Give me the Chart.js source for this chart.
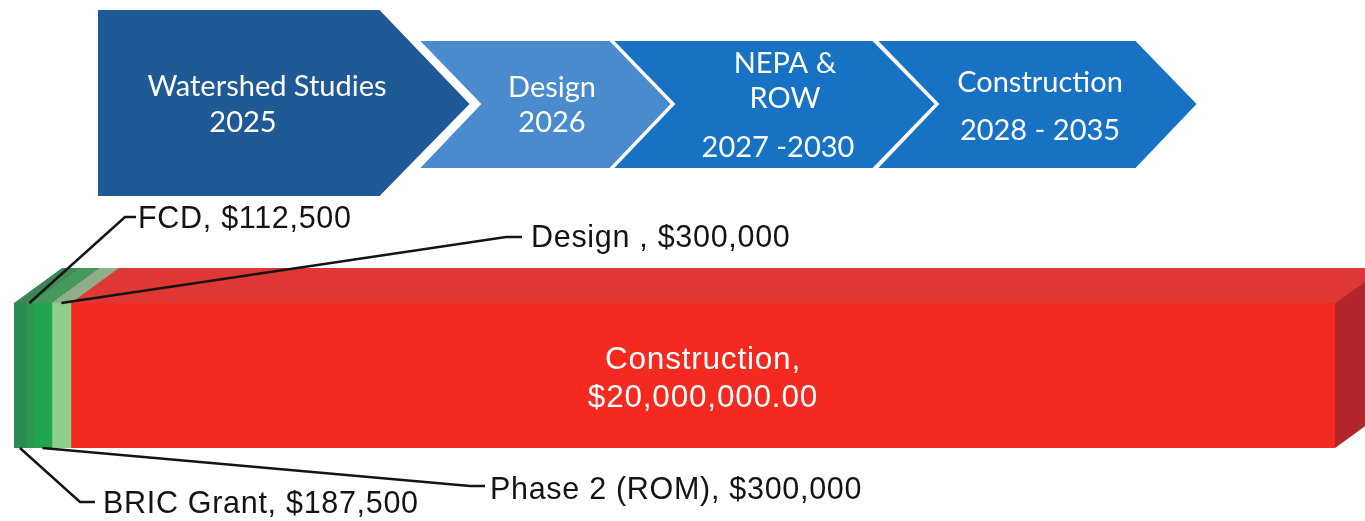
<!DOCTYPE html>
<html>
<head>
<meta charset="utf-8">
<script src="https://cdn.jsdelivr.net/npm/chart.js@4.4.1/dist/chart.umd.min.js"></script>
<style>
  html, body { margin: 0; padding: 0; background: #ffffff; }
  #wrap { position: relative; width: 1365px; height: 521px; }
</style>
</head>
<body>
<div id="wrap"><canvas id="c" width="1365" height="521"></canvas></div>
<script>
// ---------- DATA ----------
const categories = ['BRIC Grant', 'FCD', 'Phase 2 (ROM)', 'Design', 'Construction'];
const values = [187500, 112500, 300000, 300000, 20000000];
const valueLabels = [
  ['BRIC Grant, $187,500'],
  ['FCD, $112,500'],
  ['Phase 2 (ROM), $300,000'],
  ['Design , $300,000'],
  ['Construction,', '$20,000,000.00']
];
const phaseNames = [['Watershed Studies'], ['Design'], ['NEPA &', 'ROW'], ['Construction']];
const phaseYears = ['2025', '2026', '2027 -2030', '2028 - 2035'];

// ---------- STYLE ----------
const frontColors = ['#2a8a52', '#2f9453', '#22a64b', '#8ecf8c', '#f4291f'];
const topColors   = ['#3a8556', '#3f8e58', '#47985d', '#8fae8c', '#df3733'];
const sideColor = '#b3272a';
const DEPTH_X = 48, DEPTH_Y = 35;
const labelFont = '30.5px "Liberation Sans", Arial, sans-serif';

const total = values.reduce((a, b) => a + b, 0);

// chevron header (decorative process diagram)
const chevrons = [
  { color: '#1f5a97', pts: [[97,9],[380,9],[471,104],[380,197],[97,197]],
    lines: [[phaseNames[0][0], 267, 96], [phaseYears[0], 243, 132]] },
  { color: '#4a8bcd', pts: [[418,40],[610,40],[672,104],[610,169],[418,169],[480,104]],
    lines: [[phaseNames[1][0], 552, 97], [phaseYears[1], 552, 132]] },
  { color: '#1872c4', pts: [[612,40],[873,40],[936,104],[873,169],[612,169],[674,104]],
    lines: [[phaseNames[2][0], 785, 73], [phaseNames[2][1], 785, 108], [phaseYears[2], 778, 157]] },
  { color: '#1872c4', pts: [[876,40],[1136,40],[1198,104],[1136,169],[876,169],[938,104]],
    lines: [[phaseNames[3][0], 1040, 92], [phaseYears[3], 1040, 140]] }
];

// leader-line layout: which edge to anchor, elbow, end, text start and baseline
const leaders = [
  { edge: 'bottom', elbow: [80, 502], end: [95, 502], text: [103, 513] },
  { edge: 'top',    elbow: [125, 217], end: [136, 217], text: [138, 228] },
  { edge: 'bottom', elbow: [470, 486], end: [485, 486], text: [490, 499] },
  { edge: 'top',    elbow: [506, 237], end: [522, 237], text: [531, 247] },
  null
];

const headerPlugin = {
  id: 'header',
  beforeDraw(chart) {
    const ctx = chart.ctx;
    ctx.save();
    chevrons.forEach(ch => {
      ctx.beginPath();
      ch.pts.forEach((p, i) => i ? ctx.lineTo(p[0], p[1]) : ctx.moveTo(p[0], p[1]));
      ctx.closePath();
      ctx.fillStyle = ch.color;
      ctx.fill();
      ctx.lineWidth = 2;
      ctx.strokeStyle = '#ffffff';
      ctx.stroke();
    });
    ctx.fillStyle = '#ffffff';
    ctx.font = '29px Lato, "Open Sans", sans-serif';
    ctx.textAlign = 'center';
    ctx.textBaseline = 'alphabetic';
    chevrons.forEach(ch => ch.lines.forEach(l => ctx.fillText(l[0], l[1], l[2])));
    ctx.restore();
  }
};

const boxPlugin = {
  id: 'box3d',
  afterDatasetsDraw(chart) {
    const ctx = chart.ctx;
    ctx.save();
    const metas = chart.data.datasets.map((d, i) => chart.getDatasetMeta(i).data[0]);
    // top faces
    metas.forEach((el, i) => {
      const xl = Math.min(el.base, el.x), xr = Math.max(el.base, el.x);
      const yt = el.y - el.height / 2;
      ctx.beginPath();
      ctx.moveTo(xl, yt);
      ctx.lineTo(xr + 0.5, yt);
      ctx.lineTo(xr + 0.5 + DEPTH_X, yt - DEPTH_Y);
      ctx.lineTo(xl + DEPTH_X, yt - DEPTH_Y);
      ctx.closePath();
      ctx.fillStyle = topColors[i];
      ctx.fill();
    });
    // right side face
    const last = metas[metas.length - 1];
    const xr = last.x, yt = last.y - last.height / 2, yb = last.y + last.height / 2;
    ctx.beginPath();
    ctx.moveTo(xr, yt);
    ctx.lineTo(xr + DEPTH_X, yt - DEPTH_Y);
    ctx.lineTo(xr + DEPTH_X, yb - DEPTH_Y);
    ctx.lineTo(xr, yb);
    ctx.closePath();
    ctx.fillStyle = sideColor;
    ctx.fill();

    // labels and leader lines
    ctx.textBaseline = 'alphabetic';
    metas.forEach((el, i) => {
      const L = leaders[i];
      const cx = (el.base + el.x) / 2;
      if (L) {
        const ay = L.edge === 'top' ? el.y - el.height / 2 : el.y + el.height / 2;
        ctx.beginPath();
        ctx.moveTo(cx, ay);
        ctx.lineTo(L.elbow[0], L.elbow[1]);
        ctx.lineTo(L.end[0], L.end[1]);
        ctx.strokeStyle = '#141414';
        ctx.lineWidth = 2.5;
        ctx.stroke();
        ctx.font = labelFont;
        ctx.letterSpacing = '0.7px';
        ctx.fillStyle = '#141414';
        ctx.textAlign = 'left';
        ctx.fillText(valueLabels[i][0], L.text[0], L.text[1]);
      } else {
        ctx.font = '31.5px "Liberation Sans", Arial, sans-serif';
        ctx.letterSpacing = '0.8px';
        ctx.fillStyle = '#ffffff';
        ctx.textAlign = 'center';
        const lines = valueLabels[i];
        ctx.fillText(lines[0], cx, el.y - 7);
        ctx.fillText(lines[1], cx, el.y + 31);
      }
    });
    ctx.restore();
  }
};

new Chart(document.getElementById('c'), {
  type: 'bar',
  data: {
    labels: ['Funding'],
    datasets: categories.map((name, i) => ({
      label: name,
      data: [values[i]],
      backgroundColor: frontColors[i],
      borderWidth: 0,
      barPercentage: 1,
      categoryPercentage: 1
    }))
  },
  options: {
    indexAxis: 'y',
    responsive: false,
    animation: false,
    layout: { padding: { left: 14, right: 30, top: 303, bottom: 73 } },
    scales: {
      x: { stacked: true, min: 0, max: total, display: false },
      y: { stacked: true, display: false }
    },
    plugins: { legend: { display: false }, tooltip: { enabled: false } }
  },
  plugins: [headerPlugin, boxPlugin]
});
</script>
</body>
</html>
